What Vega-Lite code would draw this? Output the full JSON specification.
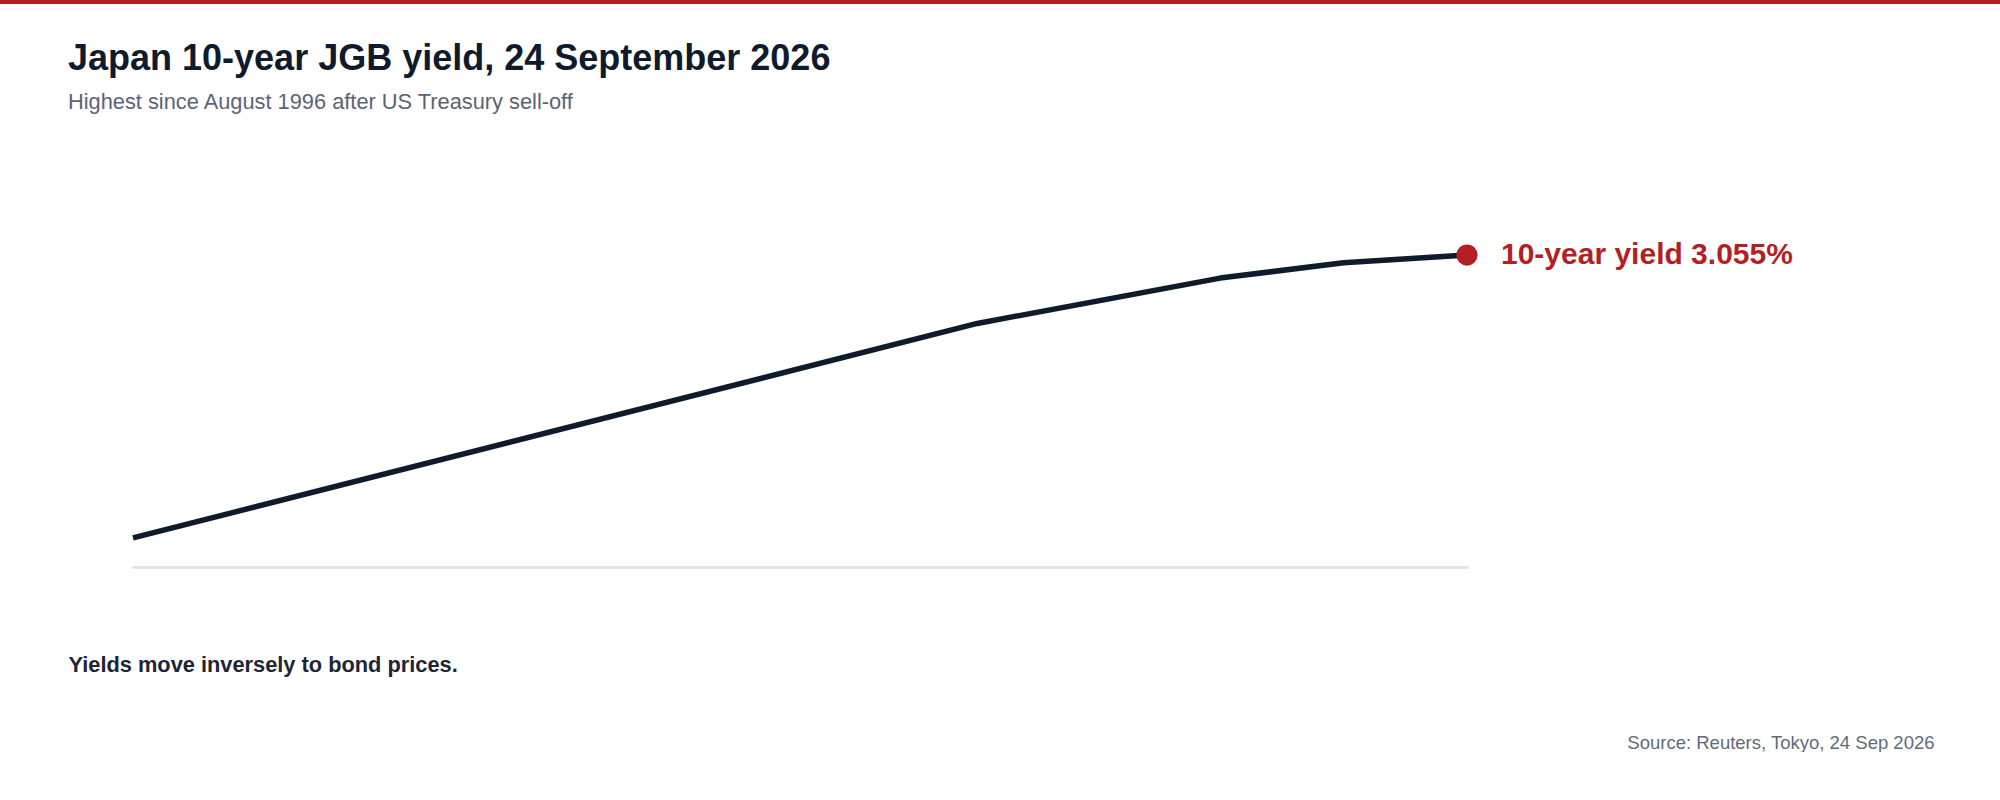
{
  "$schema": "https://vega.github.io/schema/vega-lite/v6.json",
  "background": "white",
  "padding": 0,
  "columns": 1,
  "align": "none",
  "bounds": "full",
  "spacing": 37,
  "config": {
    "font": "Liberation Sans",
    "view": {"stroke": null}
  },
  "concat": [
    {
      "width": 2000,
      "height": 4,
      "data": {"values": [{"band": "top"}]},
      "mark": {"type": "rect", "color": "#b31f24"}
    },
    {
      "width": 1467,
      "height": 321,
      "title": {
        "text": "Japan 10-year JGB yield, 24 September 2026",
        "subtitle": "Highest since August 1996 after US Treasury sell-off",
        "anchor": "start",
        "frame": "group",
        "baseline": "top",
        "dx": 68,
        "offset": 125,
        "font": "Liberation Sans",
        "fontSize": 36,
        "fontWeight": "bold",
        "color": "#0f1b2d",
        "subtitleFont": "Liberation Sans",
        "subtitleFontSize": 21.8,
        "subtitleColor": "#5b6477",
        "subtitlePadding": 14
      },
      "data": {
        "values": [
          {"date": "2025-10-01", "yield": 1.645},
          {"date": "2026-05-01", "yield": 2.714},
          {"date": "2026-07-01", "yield": 2.94},
          {"date": "2026-08-01", "yield": 3.017},
          {"date": "2026-09-01", "yield": 3.055}
        ]
      },
      "encoding": {
        "x": {
          "field": "date",
          "type": "temporal",
          "scale": {"range": [133, 1467]},
          "axis": {
            "domain": true,
            "domainColor": "#e4e4e8",
            "domainWidth": 3,
            "domainCap": "round",
            "ticks": false,
            "labels": false,
            "grid": false,
            "title": "Yields move inversely to bond prices.",
            "titleFont": "Liberation Sans",
            "titleFontSize": 21.8,
            "titleFontWeight": "bold",
            "titleColor": "#1e2535",
            "titleAnchor": "start",
            "titleAlign": "left",
            "titleBaseline": "alphabetic",
            "titleX": 68,
            "titleY": 104
          }
        }
      },
      "resolve": {"axis": {"y": "independent"}},
      "layer": [
        {
          "mark": {"type": "line", "color": "#0d1b2a", "strokeWidth": 5.5, "strokeJoin": "round", "strokeCap": "butt"},
          "encoding": {
            "y": {
              "field": "yield",
              "type": "quantitative",
              "scale": {"domain": [1.5, 3.1], "nice": false, "zero": false},
              "axis": null
            }
          }
        },
        {
          "transform": [
            {"joinaggregate": [{"op": "max", "field": "yield", "as": "latest"}]},
            {"filter": "datum.yield == datum.latest"}
          ],
          "mark": {"type": "circle", "color": "#b31f24", "opacity": 1, "size": 450},
          "encoding": {
            "y": {
              "field": "yield",
              "type": "quantitative",
              "axis": {
                "orient": "right",
                "domain": false,
                "ticks": false,
                "labels": false,
                "grid": false,
                "title": "Source: Reuters, Tokyo, 24 Sep 2026",
                "titleFont": "Liberation Sans",
                "titleFontSize": 18.5,
                "titleFontWeight": "normal",
                "titleColor": "#5f6b7d",
                "titleAngle": 0,
                "titleAlign": "right",
                "titleBaseline": "alphabetic",
                "titleX": 467,
                "titleY": 502
              }
            }
          }
        },
        {
          "transform": [
            {"joinaggregate": [{"op": "max", "field": "yield", "as": "latest"}]},
            {"filter": "datum.yield == datum.latest"},
            {"calculate": "'10-year yield ' + format(datum.yield, '.3f') + '%'", "as": "label"}
          ],
          "mark": {
            "type": "text",
            "align": "left",
            "baseline": "middle",
            "dx": 34,
            "font": "Liberation Sans",
            "fontSize": 30,
            "fontWeight": "bold",
            "color": "#b31f24"
          },
          "encoding": {
            "y": {"field": "yield", "type": "quantitative", "axis": null},
            "text": {"field": "label"}
          }
        }
      ]
    }
  ]
}
